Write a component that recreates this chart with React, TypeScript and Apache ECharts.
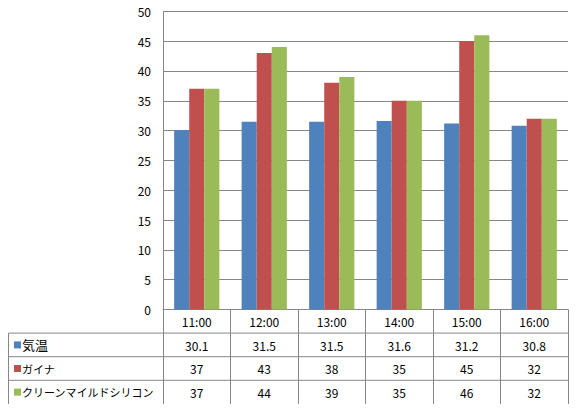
import { useEffect, useRef } from "react";
import * as echarts from "echarts";

// data
const times = ["11:00", "12:00", "13:00", "14:00", "15:00", "16:00"];
const seriesNames = ["気温", "ガイナ", "クリーンマイルドシリコン"];
const airTemp = [30.1, 31.5, 31.5, 31.6, 31.2, 30.8];
const gaina = [37, 43, 38, 35, 45, 32];
const greenSilicon = [37, 44, 39, 35, 46, 32];
const yMin = 0;
const yMax = 50;
const yStep = 5;

// layout (Excel-ish chart with data table underneath)
const W = 578;
const H = 411;
const PLOT_LEFT = 163;
const PLOT_RIGHT = 568;
const PLOT_TOP = 11.3;
const PLOT_BOTTOM = 309.5;
const ROW_H = 23.6;
const TABLE_LEFT = 8.5;
const GRID_COLOR = "#868686";
const FONT = "'Noto Sans CJK JP', 'Noto Sans', sans-serif";
const COLORS = ["#4F81BD", "#C0504D", "#9BBB59"];
const LABEL_SIZES = [13, 11, 11];

export default function App() {
  const chartRef = useRef<HTMLDivElement>(null);

  useEffect(() => {
    if (!chartRef.current) return;
    const chart = echarts.init(chartRef.current, null, { renderer: "svg" });

    const rows = [airTemp, gaina, greenSilicon];

    // one extra x axis per table row, labels give the values
    const rowAxes = rows.map((vals, k) => ({
      type: "category",
      data: times,
      position: "bottom",
      offset: ROW_H * (k + 1),
      axisLine: { show: false },
      axisTick: { show: false },
      axisLabel: {
        interval: 0,
        margin: 6,
        color: "#000",
        fontSize: 12,
        fontFamily: FONT,
        formatter: (_v: string, i: number) => String(vals[i]),
      },
    }));

    const graphic: any[] = [];
    // horizontal rules of the table
    for (let k = 1; k <= rows.length; k++) {
      const y = PLOT_BOTTOM + ROW_H * k;
      graphic.push({
        type: "line",
        shape: { x1: TABLE_LEFT, y1: y, x2: PLOT_RIGHT, y2: y },
        style: { stroke: GRID_COLOR, lineWidth: 1 },
      });
    }
    graphic.push({
      type: "line",
      shape: {
        x1: TABLE_LEFT,
        y1: PLOT_BOTTOM + ROW_H,
        x2: TABLE_LEFT,
        y2: PLOT_BOTTOM + ROW_H * (rows.length + 1),
      },
      style: { stroke: GRID_COLOR, lineWidth: 1 },
    });
    // row headers: colour key + series name
    seriesNames.forEach((name, k) => {
      const cy = PLOT_BOTTOM + ROW_H * (k + 1.5);
      graphic.push({
        type: "rect",
        shape: { x: 14, y: cy - 3.5, width: 7, height: 7 },
        style: { fill: COLORS[k] },
      });
      graphic.push({
        type: "text",
        x: 22,
        y: cy,
        style: {
          text: name,
          fill: "#000",
          fontSize: LABEL_SIZES[k],
          fontFamily: FONT,
          verticalAlign: "middle",
        },
      });
    });

    chart.setOption({
      animation: false,
      color: COLORS,
      textStyle: { fontFamily: FONT },
      grid: {
        left: PLOT_LEFT,
        right: W - PLOT_RIGHT,
        top: PLOT_TOP,
        bottom: H - PLOT_BOTTOM,
        containLabel: false,
        outerBoundsMode: "none",
      },
      xAxis: [
        {
          type: "category",
          data: times,
          position: "bottom",
          axisLine: { show: true, lineStyle: { color: GRID_COLOR, width: 1 } },
          axisTick: {
            show: true,
            interval: 0,
            length: ROW_H * (rows.length + 1),
            lineStyle: { color: GRID_COLOR, width: 1 },
          },
          axisLabel: {
            interval: 0,
            margin: 6,
            color: "#000",
            fontSize: 12,
            fontFamily: FONT,
          },
        },
        ...rowAxes,
      ],
      yAxis: {
        type: "value",
        min: yMin,
        max: yMax,
        interval: yStep,
        axisLine: { show: true, lineStyle: { color: GRID_COLOR, width: 1 } },
        axisTick: { show: false },
        axisLabel: { margin: 12, color: "#000", fontSize: 12, fontFamily: FONT },
        splitLine: { lineStyle: { color: GRID_COLOR, width: 1 } },
      },
      series: rows.map((vals, k) => ({
        name: seriesNames[k],
        type: "bar",
        data: vals,
        barGap: "0%",
        barCategoryGap: "33%",
      })),
      graphic,
    });

    return () => {
      chart.dispose();
    };
  }, []);

  return (
    <div
      ref={chartRef}
      style={{ position: "fixed", left: 0, top: 0, width: W, height: H, background: "#fff" }}
    />
  );
}
